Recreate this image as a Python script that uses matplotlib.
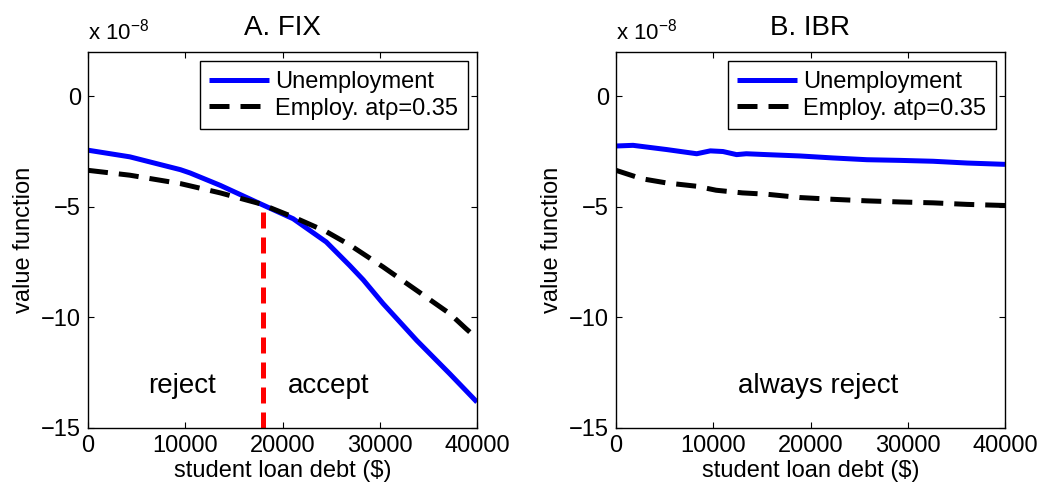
import matplotlib
matplotlib.use("Agg")
import matplotlib.pyplot as plt

plt.rcParams['font.family'] = ['Liberation Sans', 'DejaVu Sans']

# Panel A (FIX), values in units of 1e-8
fix_unemp_x = [0, 4300, 9500, 10500, 13600, 17700, 21100, 24500, 26900, 28300, 30350, 33800, 37200, 40000]
fix_unemp_y = [-2.44, -2.74, -3.32, -3.47, -4.03, -4.86, -5.54, -6.59, -7.65, -8.30, -9.38, -11.04, -12.55, -13.83]
fix_emp_x = [0, 4300, 9500, 13600, 17700, 21100, 24500, 26900, 30350, 33800, 37200, 38870, 40000]
fix_emp_y = [-3.35, -3.57, -3.95, -4.37, -4.86, -5.46, -6.12, -6.72, -7.72, -8.78, -9.83, -10.51, -10.95]
threshold_x = 18000
threshold_y = -4.9

# Panel B (IBR)
ibr_unemp_x = [0, 1750, 5200, 8300, 9700, 11000, 12400, 13400, 15500, 18900, 22300, 25800, 29200, 32600, 36100, 40000]
ibr_unemp_y = [-2.25, -2.22, -2.41, -2.60, -2.47, -2.50, -2.64, -2.60, -2.64, -2.70, -2.79, -2.87, -2.90, -2.94, -3.02, -3.08]
ibr_emp_x = [0, 2650, 5200, 8300, 10300, 13000, 15500, 18900, 22300, 25800, 29200, 32600, 36100, 40000]
ibr_emp_y = [-3.35, -3.73, -3.92, -4.07, -4.25, -4.37, -4.43, -4.58, -4.66, -4.73, -4.78, -4.82, -4.89, -4.94]

titles = ["A. FIX", "B. IBR"]
legend_labels = ["Unemployment", "Employ. at\u03c1=0.35"]
x_ticks = [0, 10000, 20000, 30000, 40000]
y_ticks = [0, -5, -10, -15]

FS = 17
fig = plt.figure(figsize=(10.42, 4.92), dpi=100)
ax1 = fig.add_axes([88/1042, 64/492, 389/1042, 376/492])
ax2 = fig.add_axes([616/1042, 64/492, 389/1042, 376/492])

lw = 3.6
dash = (4, 2.2)

def setup(ax, title):
    ax.set_xlim(0, 40000)
    ax.set_ylim(-15, 2)
    ax.set_xticks(x_ticks)
    ax.set_xticklabels([str(t) for t in x_ticks])
    ax.set_yticks(y_ticks)
    ax.tick_params(direction='in', length=4, width=0.8, labelsize=FS, top=True, right=True, pad=5)
    for s in ax.spines.values():
        s.set_linewidth(1.0)
    ax.set_title(title, fontsize=20, pad=12)
    ax.set_xlabel("student loan debt ($)", fontsize=FS, labelpad=2)
    ax.set_ylabel("value function", fontsize=FS, labelpad=4)
    ax.text(0, 1.02, r"x 10$^{\mathregular{-8}}$", transform=ax.transAxes, fontsize=FS - 1,
            ha='left', va='bottom')

for ax, t, ux, uy, ex, ey in [(ax1, titles[0], fix_unemp_x, fix_unemp_y, fix_emp_x, fix_emp_y),
                               (ax2, titles[1], ibr_unemp_x, ibr_unemp_y, ibr_emp_x, ibr_emp_y)]:
    ax.plot(ux, uy, color='#0000FF', lw=lw, solid_capstyle='butt', label=legend_labels[0])
    ax.plot(ex, ey, color='black', lw=lw, linestyle=(0, dash), label=legend_labels[1])
    setup(ax, t)
    leg = ax.legend(loc='upper right', fontsize=FS, frameon=True, fancybox=False,
                    edgecolor='black', framealpha=1, handlelength=2.55, handletextpad=0.25,
                    borderpad=0.4, labelspacing=0.2, borderaxespad=0.4)
    leg.get_frame().set_linewidth(1.0)

ax1.plot([threshold_x, threshold_x], [-15, threshold_y], color='#FF0000', lw=lw,
         linestyle=(0, (3.2, 1.8)), zorder=1)
ax1.text(9700, -13.1, "reject", fontsize=20, ha='center', va='center')
ax1.text(24700, -13.1, "accept", fontsize=20, ha='center', va='center')
ax2.text(20800, -13.1, "always reject", fontsize=20, ha='center', va='center')

fig.savefig("out.png", dpi=100)
